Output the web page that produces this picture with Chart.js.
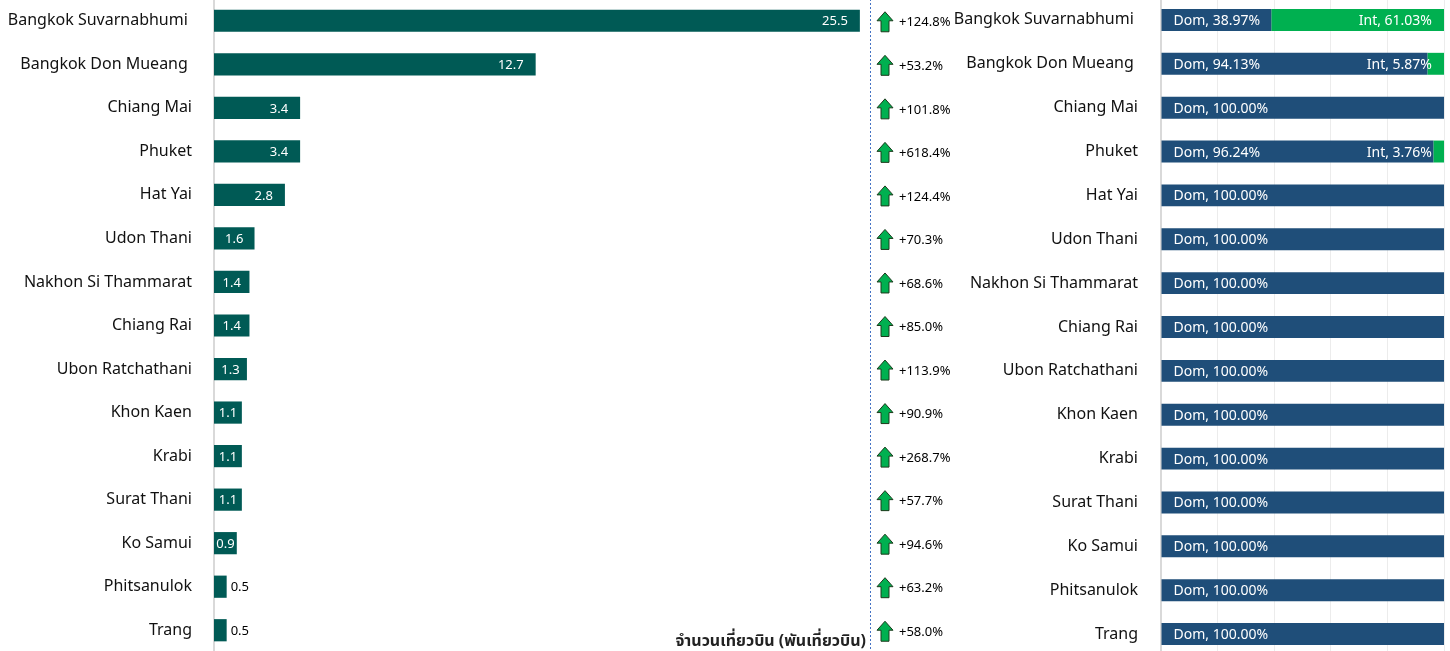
<!DOCTYPE html>
<html>
<head>
<meta charset="utf-8">
<script src="https://cdn.jsdelivr.net/npm/chart.js@4.4.1/dist/chart.umd.min.js"></script>
<style>
    body { margin: 0; background: #fff; width: 1450px; height: 651px; overflow: hidden; position: relative; }
    #leftWrap { position: absolute; left: 0; top: -1px; }
    #rightWrap { position: absolute; left: 955px; top: -2px; }
</style>
</head>
<body>
<div id="leftWrap"><canvas id="flightsChart" width="960" height="653"></canvas></div>
<div id="rightWrap"><canvas id="shareChart" width="495" height="658"></canvas></div>
<script>
// ข้อมูลสนามบิน
const airports = ['Bangkok Suvarnabhumi ', 'Bangkok Don Mueang ', 'Chiang Mai', 'Phuket', 'Hat Yai',
    'Udon Thani', 'Nakhon Si Thammarat', 'Chiang Rai', 'Ubon Ratchathani', 'Khon Kaen',
    'Krabi', 'Surat Thani', 'Ko Samui', 'Phitsanulok', 'Trang'];
const flights = [25.5, 12.7, 3.4, 3.4, 2.8, 1.6, 1.4, 1.4, 1.3, 1.1, 1.1, 1.1, 0.9, 0.5, 0.5];
const growth = [124.8, 53.2, 101.8, 618.4, 124.4, 70.3, 68.6, 85.0, 113.9, 90.9, 268.7, 57.7, 94.6, 63.2, 58.0];
const domShare = [38.97, 94.13, 100, 96.24, 100, 100, 100, 100, 100, 100, 100, 100, 100, 100, 100];
const intShare = [61.03, 5.87, 0, 3.76, 0, 0, 0, 0, 0, 0, 0, 0, 0, 0, 0];
const axisTitle = 'จำนวนเที่ยวบิน (พันเที่ยวบิน)';

const FONT = '"Noto Sans", "Noto Sans Thai", "Tahoma", sans-serif';

function drawArrow(ctx, cx, cy) {
    const top = cy - 10, bottom = cy + 10;
    ctx.beginPath();
    ctx.moveTo(cx, top);
    ctx.lineTo(cx + 8, top + 9);
    ctx.lineTo(cx + 4, top + 9);
    ctx.lineTo(cx + 4, bottom);
    ctx.lineTo(cx - 4, bottom);
    ctx.lineTo(cx - 4, top + 9);
    ctx.lineTo(cx - 8, top + 9);
    ctx.closePath();
    ctx.fillStyle = '#00b050';
    ctx.fill();
    ctx.lineWidth = 1;
    ctx.strokeStyle = '#1c3a1c';
    ctx.stroke();
}

// ไม่ให้ป้ายแกนเพิ่มระยะบน/ล่าง
function fixAxis(width) {
    return function (scale) {
        scale.width = width;
        scale.paddingTop = 0;
        scale.paddingBottom = 0;
    };
}

// ป้ายค่า + ลูกศรการเติบโต
const flightLabels = {
    id: 'flightLabels',
    afterDatasetsDraw(chart) {
        const { ctx, chartArea } = chart;
        const meta = chart.getDatasetMeta(0);
        const yScale = chart.scales.y;
        ctx.save();
        ctx.font = '13px ' + FONT;
        ctx.textBaseline = 'middle';
        meta.data.forEach((bar, i) => {
            const txt = flights[i].toFixed(1);
            const w = ctx.measureText(txt).width;
            const barW = bar.x - bar.base;
            if (barW >= w + 2) {
                const gap = Math.min(12, (barW - w) / 2);
                ctx.fillStyle = '#fff';
                ctx.textAlign = 'right';
                ctx.fillText(txt, bar.x - gap, bar.y + 1);
            } else {
                ctx.fillStyle = '#000';
                ctx.textAlign = 'left';
                ctx.fillText(txt, bar.x + 4, bar.y + 1);
            }
        });

        // เส้นประแบ่ง
        ctx.beginPath();
        ctx.setLineDash([2, 2]);
        ctx.strokeStyle = '#4472c4';
        ctx.lineWidth = 1;
        ctx.moveTo(chartArea.right + 0.5, 0);
        ctx.lineTo(chartArea.right + 0.5, chart.height);
        ctx.stroke();
        ctx.setLineDash([]);

        // ลูกศร + เปอร์เซ็นต์
        growth.forEach((g, i) => {
            const y = yScale.getPixelForValue(i) + 1;
            drawArrow(ctx, chartArea.right + 15, y);
            ctx.fillStyle = '#000';
            ctx.textAlign = 'left';
            ctx.font = '13px ' + FONT;
            ctx.fillText('+' + g.toFixed(1) + '%', chartArea.right + 29, y + 1);
        });

        // ชื่อแกน
        ctx.font = 'bold 16px ' + FONT;
        ctx.textAlign = 'right';
        ctx.fillStyle = '#222';
        ctx.fillText(axisTitle, chartArea.right - 4, chart.height - 11);
        ctx.restore();
    }
};

const shareLabels = {
    id: 'shareLabels',
    afterDatasetsDraw(chart) {
        const { ctx } = chart;
        const domMeta = chart.getDatasetMeta(0);
        const intMeta = chart.getDatasetMeta(1);
        ctx.save();
        ctx.font = '14px ' + FONT;
        ctx.textBaseline = 'middle';
        ctx.fillStyle = '#fff';
        domMeta.data.forEach((bar, i) => {
            ctx.textAlign = 'left';
            ctx.fillText('Dom, ' + domShare[i].toFixed(2) + '%', bar.base + 12, bar.y + 1);
            if (intShare[i] > 0) {
                const ib = intMeta.data[i];
                ctx.textAlign = 'right';
                ctx.fillText('Int, ' + intShare[i].toFixed(2) + '%', ib.x - 12, ib.y + 1);
            }
        });
        ctx.restore();
    }
};

function initCharts() {
    const flightsCtx = document.getElementById('flightsChart').getContext('2d');
    const shareCtx = document.getElementById('shareChart').getContext('2d');

    new Chart(flightsCtx, {
        type: 'bar',
        data: {
            labels: airports,
            datasets: [{
                data: flights,
                backgroundColor: '#005a55',
                borderWidth: 0,
                barPercentage: 0.51,
                categoryPercentage: 1
            }]
        },
        options: {
            indexAxis: 'y',
            responsive: false,
            animation: false,
            layout: { padding: { top: 0, bottom: 0, left: 0, right: 90 } },
            plugins: { legend: { display: false }, tooltip: { enabled: false } },
            scales: {
                x: {
                    min: 0,
                    max: 25.9,
                    display: false
                },
                y: {
                    afterFit: fixAxis(214),
                    grid: { display: false, drawTicks: false },
                    border: { color: '#d9d9d9', width: 2 },
                    ticks: { color: '#111', padding: 22, font: { family: FONT, size: 16 } }
                }
            }
        },
        plugins: [flightLabels]
    });

    new Chart(shareCtx, {
        type: 'bar',
        data: {
            labels: airports,
            datasets: [{
                label: 'Dom',
                data: domShare,
                backgroundColor: '#1f4e79',
                borderWidth: 0,
                barPercentage: 0.5,
                categoryPercentage: 1
            }, {
                label: 'Int',
                data: intShare,
                backgroundColor: '#00b050',
                borderWidth: 0,
                barPercentage: 0.5,
                categoryPercentage: 1
            }]
        },
        options: {
            indexAxis: 'y',
            responsive: false,
            animation: false,
            layout: { padding: { top: 0, bottom: 0, left: 0, right: 6 } },
            plugins: { legend: { display: false }, tooltip: { enabled: false } },
            scales: {
                x: {
                    stacked: true,
                    min: 0,
                    max: 100,
                    grid: { color: '#ececec', drawTicks: false },
                    border: { display: false },
                    ticks: { display: false, stepSize: 20 }
                },
                y: {
                    stacked: true,
                    afterFit: fixAxis(206),
                    grid: { display: false, drawTicks: false },
                    border: { color: '#d9d9d9', width: 2 },
                    ticks: { color: '#111', padding: 23, font: { family: FONT, size: 16 } }
                }
            }
        },
        plugins: [shareLabels]
    });
}

document.addEventListener('DOMContentLoaded', initCharts);
</script>
</body>
</html>
